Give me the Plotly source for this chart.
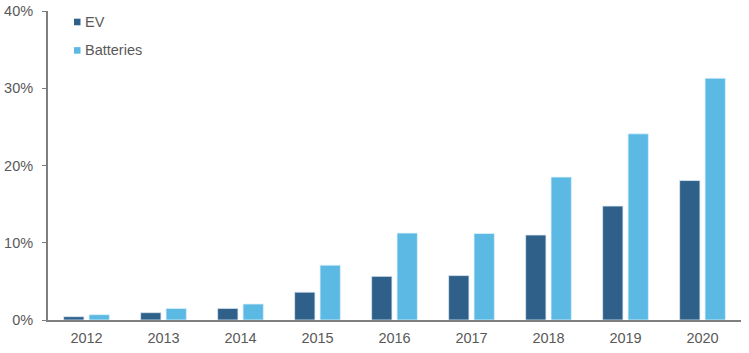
import plotly.graph_objects as go

years = ["2012", "2013", "2014", "2015", "2016", "2017", "2018", "2019", "2020"]
ev = [0.43, 0.95, 1.5, 3.6, 5.65, 5.75, 11.0, 14.75, 18.05]
batteries = [0.69, 1.5, 2.07, 7.1, 11.25, 11.2, 18.5, 24.1, 31.3]
ytick_vals = [0, 10, 20, 30, 40]
ytick_text = ["0%", "10%", "20%", "30%", "40%"]
series_names = ["EV", "Batteries"]

EV_COLOR = "#2E6089"
BAT_COLOR = "#5BB9E4"
TXT = "#595959"
FONT = "Liberation Sans, Arial, sans-serif"
FS = 14.5

W, H = 749, 353
ML, MR, MT, MB = 48, 8, 10.5, 33

fig = go.Figure()
fig.add_trace(go.Bar(x=years, y=ev, name=series_names[0],
                     marker=dict(color=EV_COLOR, line=dict(color="#DDEAF4", width=0.8))))
fig.add_trace(go.Bar(x=years, y=batteries, name=series_names[1],
                     marker=dict(color=BAT_COLOR, line=dict(color="#DDF1FA", width=0.8))))

# custom legend (small squares + labels), positioned in pixel terms converted to paper coords
pw, ph = W - ML - MR, H - MT - MB
def px(x):
    return (x - ML) / pw
def py(y):
    return 1 - (y - MT) / ph

for name, color, cy in [(series_names[0], EV_COLOR, 21.5), (series_names[1], BAT_COLOR, 50)]:
    fig.add_shape(type="rect", xref="paper", yref="paper",
                  x0=px(74), x1=px(80.5), y0=py(cy - 3.3), y1=py(cy + 3.3),
                  fillcolor=color, line=dict(width=0))
    fig.add_annotation(xref="paper", yref="paper", x=px(83), y=py(cy), text=name,
                       showarrow=False, xanchor="left", yanchor="middle",
                       font=dict(family=FONT, size=FS, color=TXT))

fig.update_layout(
    width=W, height=H,
    margin=dict(l=ML, r=MR, t=MT, b=MB),
    paper_bgcolor="white", plot_bgcolor="white",
    barmode="group", bargap=0.34, bargroupgap=0.2,
    showlegend=False,
    font=dict(family=FONT, size=FS, color=TXT),
)
fig.update_xaxes(showline=True, linecolor="#7F7F7F", linewidth=2, ticks="", showgrid=False,
                 automargin=False, ticklabelstandoff=4, tickfont=dict(size=FS, color=TXT))
fig.update_yaxes(range=[0, 40], tickvals=ytick_vals, ticktext=ytick_text, showline=True,
                 linecolor="#7F7F7F", linewidth=2, ticks="outside", ticklen=4, tickcolor="#7F7F7F",
                 showgrid=False, zeroline=False, automargin=False, ticklabelstandoff=6,
                 tickfont=dict(size=FS, color=TXT))
fig.write_html("out.html")
